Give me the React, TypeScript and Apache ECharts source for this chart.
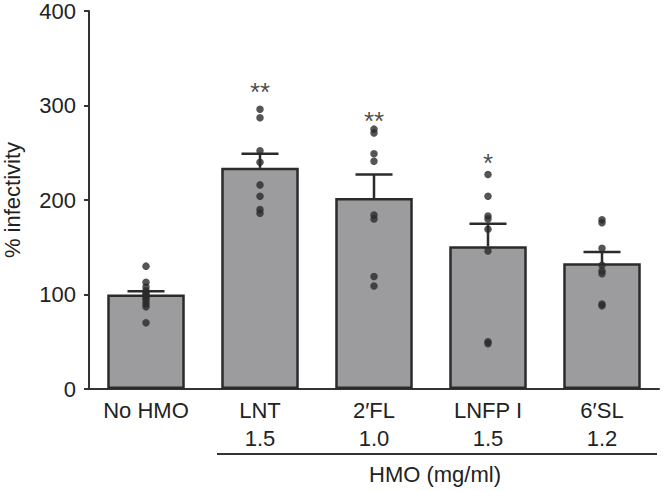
import React, { useEffect, useRef } from "react";
import * as echarts from "echarts";

const categories = ["No HMO", "LNT", "2′FL", "LNFP I", "6′SL"];
const doses = ["", "1.5", "1.0", "1.5", "1.2"];
const means = [100, 234, 202, 151, 133];
const sems = [3.5, 15, 25, 24, 12];
const dotsNoHMO = [130, 113, 108, 104, 102, 100, 98, 96, 93, 90, 87, 70];
const dotsLNT = [296, 287, 252, 240, 216, 204, 190, 186];
const dots2FL = [275, 271, 249, 241, 184, 180, 119, 109];
const dotsLNFP = [227, 204, 183, 180, 169, 146, 50, 48];
const dots6SL = [179, 176, 149, 131, 125, 122, 90, 88];
const sigMarks = ["", "**", "**", "*", ""];
const sigLevels = [0, 322, 291, 246.5, 0];
const yTicks = [0, 100, 200, 300, 400];

const FONT = "'Liberation Sans', Arial, sans-serif";
const INK = "#2b2b2b";

export default function App() {
  const ref = useRef<HTMLDivElement>(null);
  useEffect(() => {
    if (!ref.current) return;
    const chart = echarts.init(ref.current, null, { renderer: "svg" });
    const allDots = [dotsNoHMO, dotsLNT, dots2FL, dotsLNFP, dots6SL];
    const dotData: number[][] = [];
    allDots.forEach((arr, i) => arr.forEach((v) => dotData.push([i, v])));
    const errData = means.map((m, i) => [i, m, sems[i]]);
    const sigData = sigMarks
      .map((s, i) => ({ value: [i, sigLevels[i]], mark: s }))
      .filter((d) => d.mark !== "");
    const labels = categories.map((c, i) => (doses[i] ? c + "\n" + doses[i] : c));

    chart.setOption({
      animation: false,
      backgroundColor: "#ffffff",
      textStyle: { fontFamily: FONT },
      grid: {
        left: 89,
        right: 5,
        top: 11,
        bottom: 102,
        containLabel: false,
        outerBoundsMode: "none",
      },
      xAxis: {
        type: "category",
        data: labels,
        axisLine: { lineStyle: { color: "#333", width: 2 } },
        axisTick: { alignWithLabel: true, length: 5, lineStyle: { color: "#333", width: 2 } },
        axisLabel: {
          color: "#222",
          fontSize: 22,
          fontFamily: FONT,
          lineHeight: 28,
          margin: 7,
          verticalAlign: "top",
        },
      },
      yAxis: {
        type: "value",
        min: 0,
        max: 400,
        interval: 100,
        name: "% infectivity",
        nameLocation: "middle",
        nameRotate: 90,
        nameGap: 66,
        nameTextStyle: { color: "#222", fontSize: 22, fontFamily: FONT },
        axisLine: { show: true, lineStyle: { color: "#333", width: 2 } },
        axisTick: { show: true, length: 5, lineStyle: { color: "#333", width: 2 } },
        splitLine: { show: false },
        axisLabel: {
          color: "#222",
          fontSize: 22,
          fontFamily: FONT,
          margin: 13,
          formatter: (v: number) => (yTicks.includes(v) ? String(v) : ""),
        },
      },
      series: [
        {
          type: "bar",
          data: means,
          barWidth: "68%",
          itemStyle: { color: "#9c9c9e", borderColor: INK, borderWidth: 2.5 },
          z: 2,
        },
        {
          type: "custom",
          data: errData,
          encode: { x: 0, y: 1 },
          z: 3,
          renderItem: (params: any, api: any) => {
            const x = api.value(0);
            const m = api.value(1);
            const e = api.value(2);
            const base = api.coord([x, m]);
            const top = api.coord([x, m + e]);
            const hw = 18.5;
            const style = { stroke: INK, lineWidth: 2.5 };
            return {
              type: "group",
              children: [
                { type: "line", shape: { x1: base[0], y1: base[1], x2: top[0], y2: top[1] }, style },
                { type: "line", shape: { x1: top[0] - hw, y1: top[1], x2: top[0] + hw, y2: top[1] }, style },
              ],
            };
          },
        },
        {
          type: "scatter",
          data: dotData,
          symbol: "circle",
          symbolSize: 7.5,
          itemStyle: { color: INK },
          z: 4,
        },
        {
          type: "scatter",
          data: sigData,
          symbolSize: 0,
          z: 5,
          label: {
            show: true,
            position: "inside",
            formatter: (p: any) => p.data.mark,
            color: "#1a1a1a",
            fontSize: 26,
            fontFamily: FONT,
            offset: [0, 7],
          },
        },
      ],
      graphic: [
        {
          type: "line",
          shape: { x1: 217, y1: 454, x2: 657, y2: 454 },
          style: { stroke: "#333", lineWidth: 2 },
        },
        {
          type: "text",
          x: 435,
          y: 474,
          style: {
            text: "HMO (mg/ml)",
            fontSize: 22,
            fontFamily: FONT,
            fill: "#222",
            textAlign: "center",
            textVerticalAlign: "middle",
          },
        },
      ],
    });
    return () => chart.dispose();
  }, []);
  return (
    <div
      ref={ref}
      style={{ position: "fixed", left: 0, top: 0, width: 664, height: 491 }}
    />
  );
}
